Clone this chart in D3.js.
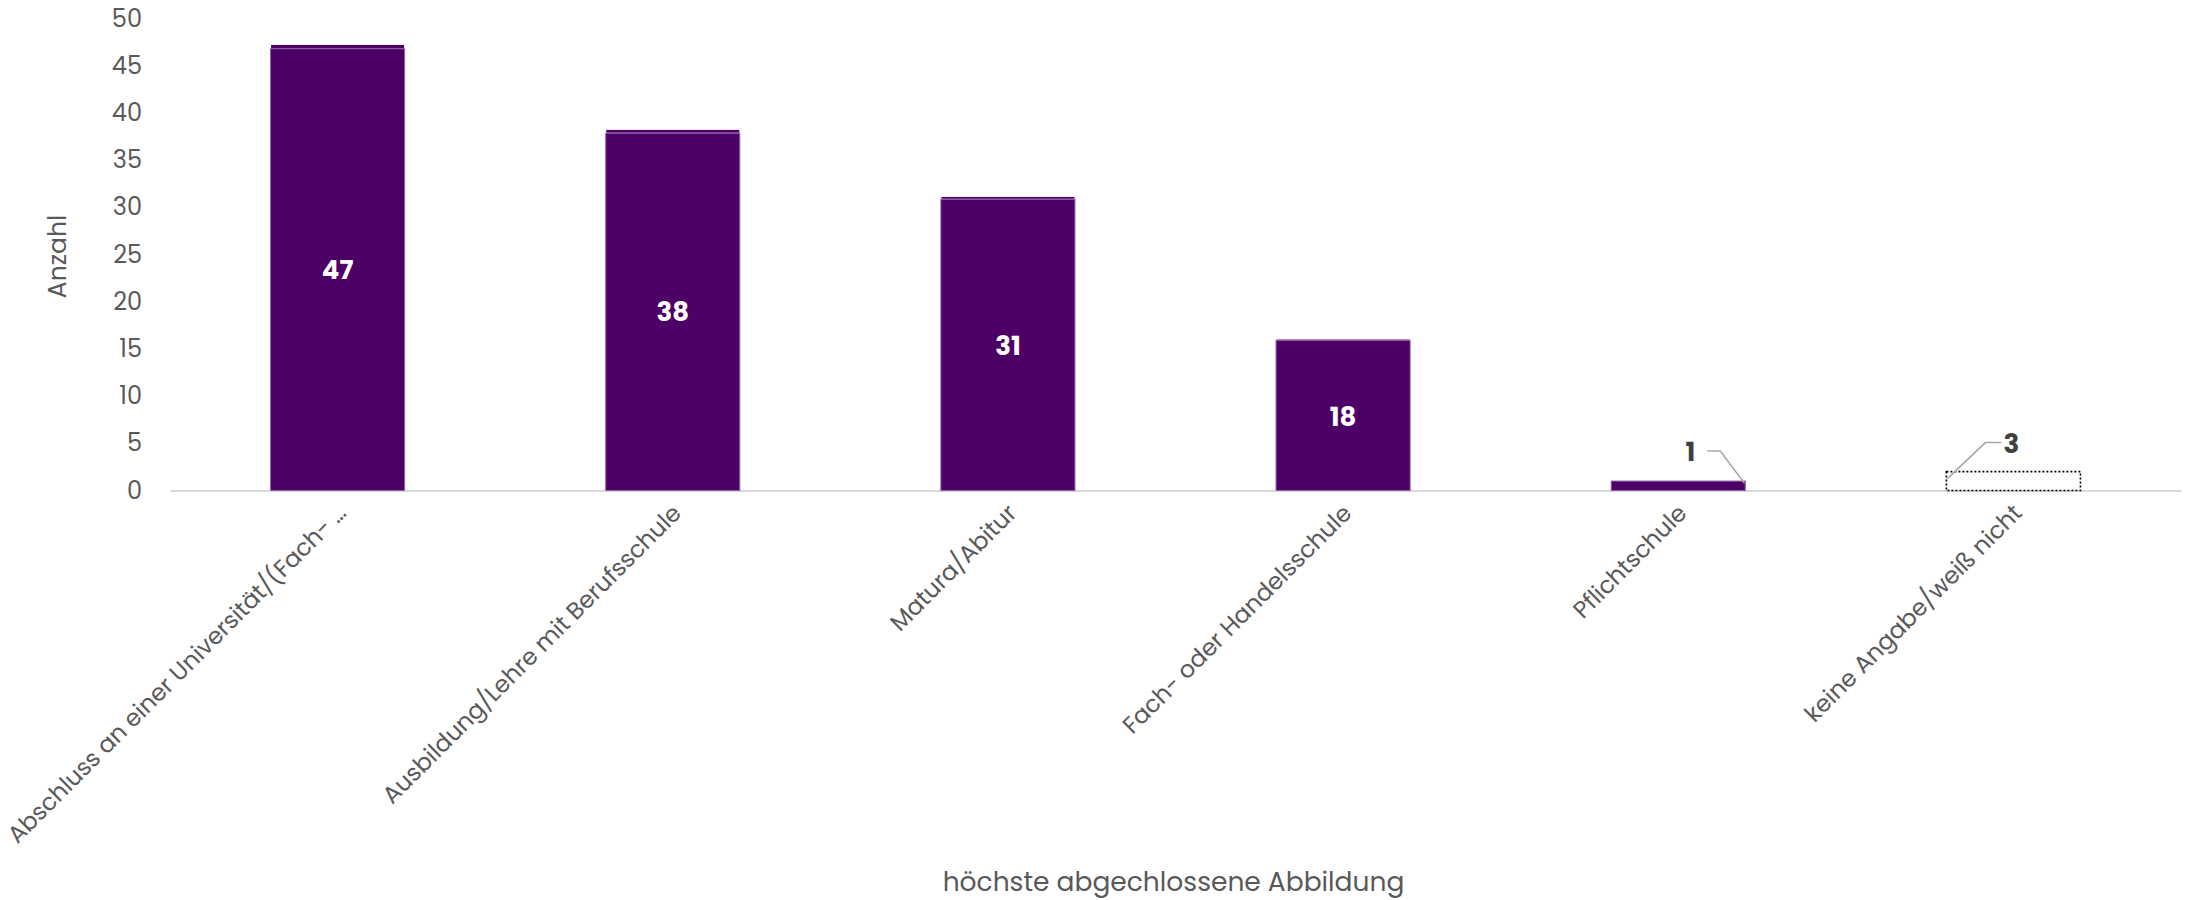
<!DOCTYPE html>
<html>
<head>
<meta charset="utf-8">
<script src="https://cdn.jsdelivr.net/npm/d3@7"></script>
<style>
  html, body { margin: 0; padding: 0; background: #ffffff; }
  svg { display: block; }
  text { font-family: "Poppins", "Open Sans", sans-serif; }
</style>
</head>
<body>
<svg id="chart" width="2196" height="900"></svg>
<script>
// ---- data ----
const categories = [
  "Abschluss an einer Universität/(Fach- …",
  "Ausbildung/Lehre mit Berufsschule",
  "Matura/Abitur",
  "Fach- oder Handelsschule",
  "Pflichtschule",
  "keine Angabe/weiß nicht"
];
const labelValues = [47, 38, 31, 18, 1, 3];       // printed data labels
const barValues   = [46.8, 37.85, 30.85, 15.9, 1, 2]; // drawn bar heights (main segment)
const capValues   = [0.4, 0.35, 0.25, 0.1, 0, 0];   // thin top segment
const dottedBar   = [false, false, false, false, false, true];
const outsideLabel = [false, false, false, false, true, true];
const yTicks = [0, 5, 10, 15, 20, 25, 30, 35, 40, 45, 50];
const yTitle = "Anzahl";
const xTitle = "höchste abgechlossene Abbildung";

// ---- layout ----
const svg = d3.select("#chart");
const mLeft = 170, mRight = 2181, mTop = 18.5, mBottom = 490.5;

const x = d3.scaleBand().domain(categories).range([mLeft, mRight])
  .paddingInner(0.6).paddingOuter(0.3);
const y = d3.scaleLinear().domain([0, 50]).range([mBottom, mTop]);

const purple = "#4d0066";
const purpleEdge = "#8e62a8";

// y axis
const gy = svg.append("g").attr("transform", `translate(${mLeft},0)`)
  .call(d3.axisLeft(y).tickValues(yTicks).tickSize(0).tickPadding(28));
gy.select(".domain").remove();
gy.selectAll("text").attr("font-size", 24).attr("fill", "#595959")
  .style("font-family", "'Poppins','Open Sans',sans-serif");

// x axis
const gx = svg.append("g").attr("transform", `translate(0,${mBottom})`)
  .call(d3.axisBottom(x).tickSize(0));
gx.select(".domain").attr("stroke", "#d9d9d9").attr("stroke-width", 2);
gx.selectAll("text")
  .attr("font-size", 23.7).attr("fill", "#595959")
  .attr("text-anchor", "end")
  .attr("x", 0).attr("y", 0).attr("dy", 0)
  .attr("transform", "translate(10,24) rotate(-45)")
  .style("font-family", "'Poppins','Open Sans',sans-serif");

// bars
const data = categories.map((c, i) => ({
  c, v: barValues[i], cap: capValues[i], label: labelValues[i],
  dotted: dottedBar[i], outside: outsideLabel[i]
}));

const bars = svg.append("g");
bars.selectAll("rect.main").data(data.filter(d => !d.dotted)).join("rect")
  .attr("class", "main")
  .attr("x", d => x(d.c))
  .attr("width", x.bandwidth())
  .attr("y", d => y(d.v))
  .attr("height", d => y(0) - y(d.v))
  .attr("fill", purple)
  .attr("stroke", purpleEdge).attr("stroke-width", 1);

bars.selectAll("rect.cap").data(data.filter(d => !d.dotted && d.cap > 0)).join("rect")
  .attr("class", "cap")
  .attr("x", d => x(d.c) + 0.5)
  .attr("width", x.bandwidth() - 1)
  .attr("y", d => y(d.v + d.cap))
  .attr("height", d => y(d.v) - y(d.v + d.cap) - 0.5)
  .attr("fill", purple);

// dotted (no fill) bar
bars.selectAll("rect.dot").data(data.filter(d => d.dotted)).join("rect")
  .attr("class", "dot")
  .attr("x", d => x(d.c))
  .attr("width", x.bandwidth())
  .attr("y", d => y(d.v))
  .attr("height", d => y(0) - y(d.v))
  .attr("fill", "none")
  .attr("stroke", "#000").attr("stroke-width", 1.6)
  .attr("stroke-dasharray", "2,2");

// inside labels
svg.append("g").selectAll("text").data(data.filter(d => !d.outside)).join("text")
  .attr("x", d => x(d.c) + x.bandwidth() / 2)
  .attr("y", d => (y(d.v + d.cap) + y(0)) / 2 + 2)
  .attr("dy", "0.35em")
  .attr("text-anchor", "middle")
  .attr("font-size", 26).attr("font-weight", 700)
  .attr("fill", "#ffffff")
  .text(d => d.label);

// outside labels with leader lines
const outs = data.filter(d => d.outside);
const lab = svg.append("g");
outs.forEach(d => {
  const bx0 = x(d.c), bx1 = x(d.c) + x.bandwidth(), by = y(d.v);
  let lx, ly, pts;
  if (!d.dotted) {
    lx = bx1 - 55; ly = by - 29;
    pts = [[lx + 17, ly - 1], [lx + 30, ly - 1], [bx1 - 1, by + 2]];
  } else {
    lx = bx0 + 65; ly = by - 28;
    pts = [[lx - 10, ly - 1], [lx - 26, ly - 1], [bx0 + 1, by + 7]];
  }
  lab.append("path").attr("d", d3.line()(pts))
    .attr("fill", "none").attr("stroke", "#a6a6a6").attr("stroke-width", 1.5);
  lab.append("text").attr("x", lx).attr("y", ly).attr("dy", "0.35em")
    .attr("text-anchor", "middle")
    .attr("font-size", 26).attr("font-weight", 700).attr("fill", "#404040")
    .text(d.label);
});

// axis titles
svg.append("text")
  .attr("transform", `translate(57,${(mTop + mBottom) / 2 + 2}) rotate(-90)`)
  .attr("text-anchor", "middle").attr("dy", "0.35em")
  .attr("font-size", 25).attr("fill", "#595959")
  .text(yTitle);

svg.append("text")
  .attr("x", (mLeft + mRight) / 2 - 2).attr("y", 891)
  .attr("text-anchor", "middle")
  .attr("font-size", 26.5).attr("fill", "#595959")
  .text(xTitle);
</script>
</body>
</html>
